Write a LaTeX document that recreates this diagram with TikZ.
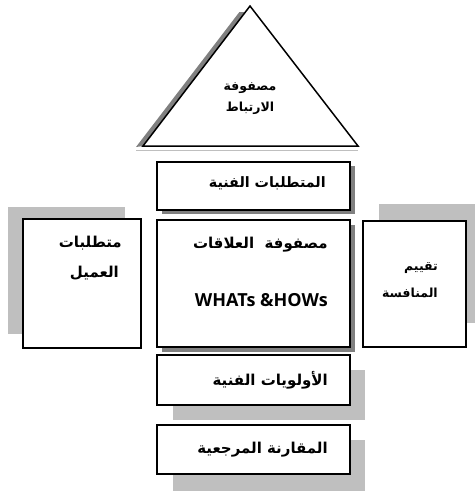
\documentclass[tikz,border=0pt]{standalone}
\usepackage{fontspec}
\setmainfont{DejaVu Sans}
\newfontfamily\arabicfont[Script=Arabic]{DejaVu Sans}
\newfontfamily\latinfont{Open Sans}
\TeXXeTstate=1
\begin{document}
\begin{tikzpicture}[x=1pt,y=-1pt,
  box/.style={draw=black,line width=1.2pt,fill=white},
  darksh/.style={fill=black!50},
  lightsh/.style={fill=black!25},
  ar/.style={font=\arabicfont\bfseries\fontsize{15}{17}\selectfont,inner sep=0pt},
  arsmall/.style={font=\arabicfont\bfseries\fontsize{12.5}{15}\selectfont,inner sep=0pt},
  lat/.style={font=\latinfont\bfseries\fontsize{18}{20}\selectfont,inner sep=0pt}]
\useasboundingbox (0,0) rectangle (475,491);
% triangle
\draw[black!25,line width=0.8pt] (136,150) -- (358,150);
\fill[black!50] (136,147) -- (239.4,12) -- (245.4,12) -- (143,146) -- cycle;
\draw[line width=1.5pt,fill=white,line join=miter] (250,6) coordinate (apex) -- (143,146) -- (358,146) -- cycle;
\node[arsmall] (tri1) at (250,88) {\beginR مصفوفة\endR};
\node[arsmall] (tri2) at (250,108) {\beginR الارتباط\endR};
% box 1
\fill[darksh] (162,166) rectangle (355,214);
\draw[box] (157,162) rectangle (350,210);
\node[ar,font=\arabicfont\bfseries\fontsize{14.3}{17}\selectfont,anchor=east] (b1) at (326,183) {\beginR المتطلبات الفنية\endR};
% box 2
\fill[darksh] (162,225) rectangle (355,352);
\draw[box] (157,220) rectangle (350,347);
\node[ar,anchor=east] (b2) at (328,245) {\beginR مصفوفة\ \ العلاقات\endR};
\node[lat,anchor=east] (b2w) at (328,300) {WHATs \&HOWs};
% box 3
\fill[lightsh] (173,370) rectangle (365,420);
\draw[box] (157,355) rectangle (350,405);
\node[ar,anchor=east] (b3) at (328,380) {\beginR الأولويات الفنية\endR};
% box 4
\fill[lightsh] (173,440) rectangle (365,491);
\draw[box] (157,425) rectangle (350,474);
\node[ar,anchor=east] (b4) at (328,450) {\beginR المقارنة المرجعية\endR};
% left box
\fill[lightsh] (8,207) rectangle (125,334);
\draw[box] (23,219) rectangle (141,348);
\node[ar,anchor=east] (l1) at (122,243) {\beginR متطلبات\endR};
\node[ar,anchor=east] (l2) at (119,273) {\beginR العميل\endR};
% right box
\fill[lightsh] (379,204) rectangle (475,323);
\draw[box] (363,221) rectangle (466,347);
\node[arsmall,anchor=east] (r1) at (438,268) {\beginR تقييم\endR};
\node[arsmall,anchor=east] (r2) at (438,293) {\beginR المنافسة\endR};
\end{tikzpicture}
\end{document}
